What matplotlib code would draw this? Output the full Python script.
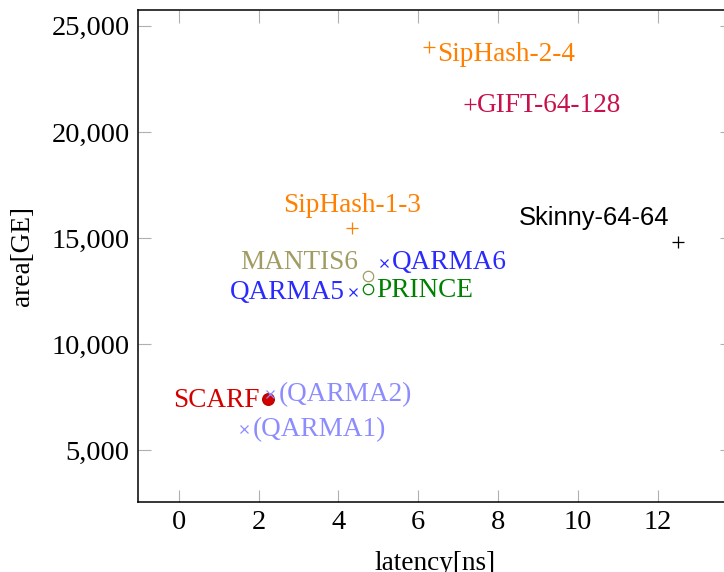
import matplotlib
matplotlib.use("Agg")
import matplotlib.pyplot as plt
from matplotlib.ticker import FuncFormatter

plt.rcParams["font.family"] = ["Liberation Serif", "DejaVu Serif"]

# designs: latency [ns] vs area [GE]
names = ["SipHash-2-4", "GIFT-64-128", "SipHash-1-3", "Skinny-64-64",
         "MANTIS6", "QARMA6", "QARMA5", "PRINCE", "SCARF",
         "(QARMA2)", "(QARMA1)"]
latency = [6.27, 7.30, 4.35, 12.51, 4.73, 5.13, 4.37, 4.73, 2.23, 2.29, 1.64]
area = [24000, 21300, 15490, 14830, 13210, 13840, 12440, 12580, 7400, 7630, 5970]
markers = ["+", "+", "+", "+", "o", "x", "x", "o", "o", "x", "x"]
colors = ["#ff8000", "#c8104a", "#ff8000", "black", "#a19c62", "#2a2aff",
          "#2a2aff", "#008000", "#d40000", "#8c8cff", "#8c8cff"]

# label placement (anchor, offset in points)
label_pos = {
    "SipHash-2-4": ("left", "center", 6, -5),
    "GIFT-64-128": ("left", "center", 5, -1),
    "SipHash-1-3": ("center", "bottom", 0, 7),
    "Skinny-64-64": ("right", "bottom", -6, 8),
    "MANTIS6": ("right", "bottom", -7, 1),
    "QARMA6": ("left", "center", 6, 0),
    "QARMA5": ("right", "center", -6, 0),
    "PRINCE": ("left", "center", 6, -1),
    "SCARF": ("right", "center", -6, -1),
    "(QARMA2)": ("left", "center", 6, 0),
    "(QARMA1)": ("left", "center", 6, 0),
}

fig = plt.figure(figsize=(7.24, 5.72), dpi=100)
ax = fig.add_axes([138 / 724, 70 / 572, 594 / 724, 492 / 572])

for n, x, y, m, c in zip(names, latency, area, markers, colors):
    if n == "SCARF":
        ax.plot(x, y, marker="o", ms=8.5, color=c, mec="#b00000", mew=0.8, ls="none")
    elif m == "o":
        ax.plot(x, y, marker="o", ms=7.5, mfc="none", mec=c, mew=0.9, ls="none")
    elif m == "x":
        ax.plot(x, y, marker="x", ms=5.5, color=c, mew=0.9, ls="none")
    else:
        ax.plot(x, y, marker="+", ms=8, color=c, mew=0.9, ls="none")
    ha, va, dx, dy = label_pos[n]
    if n == "Skinny-64-64":
        fam, fs = ["Liberation Sans", "DejaVu Sans"], 18.4
    else:
        fam, fs = ["Liberation Serif", "DejaVu Serif"], 19.6
    ax.annotate(n, (x, y), xytext=(dx, dy), textcoords="offset points",
                ha=ha, va=va, color=c, fontsize=fs, family=fam)

ax.set_xlim(-1.02, 13.86)
ax.set_ylim(2550, 25750)
ax.set_xticks([0, 2, 4, 6, 8, 10, 12])
ax.set_yticks([5000, 10000, 15000, 20000, 25000])
ax.yaxis.set_major_formatter(FuncFormatter(lambda v, p: f"{int(v):,}"))

ax.tick_params(direction="in", length=9, width=0.8, color="#b0b0b0",
               labelsize=20.5, top=True, right=True, pad=6)
for s in ax.spines.values():
    s.set_linewidth(1.1)

ax.set_xlabel("latency[ns]", fontsize=19.6, labelpad=11)
ax.set_ylabel("area[GE]", fontsize=19.6, labelpad=12)

fig.savefig("out.png", dpi=100)
